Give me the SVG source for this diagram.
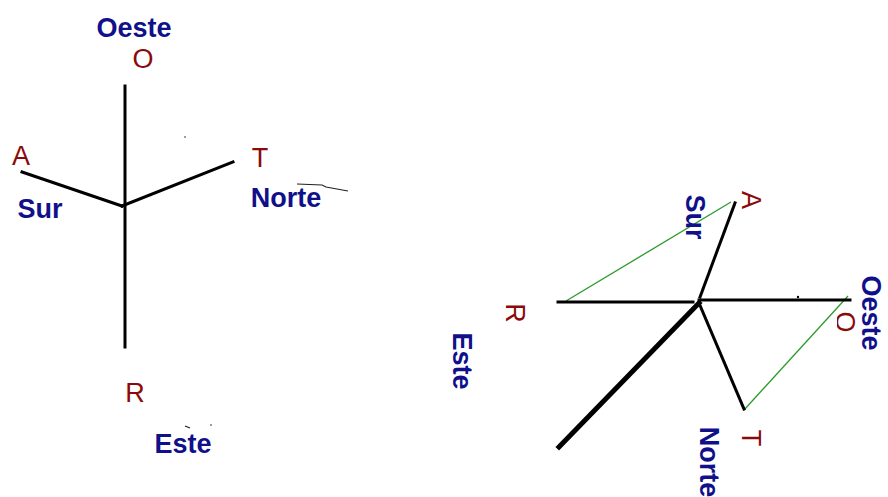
<svg xmlns="http://www.w3.org/2000/svg" width="888" height="497" viewBox="0 0 888 497">
<style>
.dir{font-family:"Liberation Sans",Arial,sans-serif;font-size:27px;font-weight:bold;fill:#10108a}
.pt{font-family:"Liberation Sans",Arial,sans-serif;font-size:27px;fill:#8a0a0a}
.ax{stroke:#000;stroke-width:3;stroke-linecap:square;fill:none}
.thick{stroke:#000;stroke-width:5;stroke-linecap:square;fill:none}
.gr{stroke:#2a9a2a;stroke-width:1.3;fill:none}
.mark{stroke:#222;stroke-width:1.2;fill:none}
</style>
<defs>
<clipPath id="clipO"><rect x="837" y="300" width="30" height="40"/></clipPath>
</defs>
<rect width="888" height="497" fill="#fff"/>
<g id="connectors">
<line class="ax" x1="125" y1="86" x2="125" y2="347"/>
<line class="ax" x1="22" y1="172" x2="122" y2="206"/>
<line class="ax" x1="122" y1="206" x2="233" y2="162"/>
<line class="gr" x1="566" y1="301" x2="731" y2="202"/>
<line class="gr" x1="744" y1="410" x2="848" y2="296"/>
<line class="ax" x1="558" y1="302" x2="693" y2="302"/>
<line class="ax" x1="699" y1="300" x2="850" y2="300"/>
<line class="ax" x1="735" y1="203" x2="700" y2="297"/>
<line class="thick" x1="699" y1="303" x2="559" y2="447"/>
<line class="ax" x1="699" y1="303" x2="744" y2="409"/>
</g>
<g id="left-O"><text class="dir" x="134" y="37" text-anchor="middle">Oeste</text><text class="pt" x="143" y="68" text-anchor="middle">O</text></g>
<g id="left-A"><text class="pt" x="21" y="165" text-anchor="middle">A</text><text class="dir" x="40" y="218" text-anchor="middle">Sur</text></g>
<g id="left-T"><text class="pt" x="260" y="167" text-anchor="middle">T</text><text class="dir" x="286" y="207" text-anchor="middle">Norte</text></g>
<g id="left-R"><text class="pt" x="135" y="402" text-anchor="middle">R</text><text class="dir" x="183" y="453" text-anchor="middle">Este</text></g>
<g id="right-A"><text class="pt" transform="translate(752,200) rotate(90)" y="10" text-anchor="middle">A</text><text class="dir" transform="translate(696,217) rotate(90)" y="10" text-anchor="middle">Sur</text></g>
<g id="right-R"><text class="pt" transform="translate(516,313) rotate(90)" y="10" text-anchor="middle">R</text><text class="dir" transform="translate(463,361) rotate(90)" y="10" text-anchor="middle">Este</text></g>
<g id="right-T"><text class="pt" transform="translate(752,438) rotate(90)" y="10" text-anchor="middle">T</text><text class="dir" transform="translate(710,462) rotate(90)" y="10" text-anchor="middle">Norte</text></g>
<g id="right-O"><g clip-path="url(#clipO)"><text class="pt" transform="translate(846,322) rotate(90)" y="10" text-anchor="middle">O</text></g><text class="dir" transform="translate(872,313) rotate(90)" y="10" text-anchor="middle">Oeste</text></g>
<g id="marks">
<polyline class="mark" points="297,184 322,185 326,187 348,191"/>
<line class="mark" x1="185" y1="426" x2="190" y2="428"/>
<circle cx="211" cy="425" r="0.8" fill="#222"/>
<circle cx="185" cy="137" r="0.8" fill="#222"/>
<circle cx="798" cy="297" r="1.2" fill="#000"/>
</g>
</svg>
